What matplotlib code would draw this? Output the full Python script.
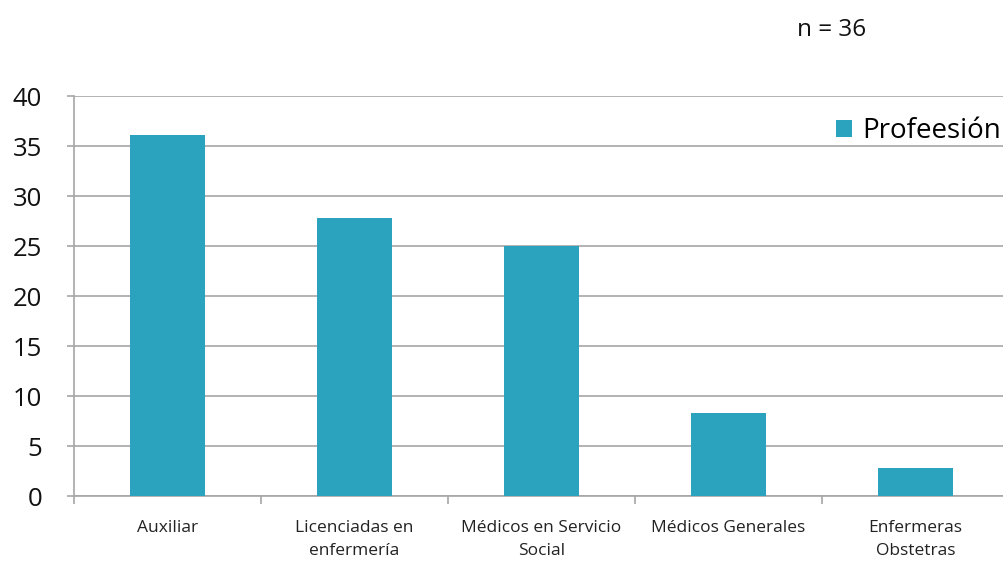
import matplotlib
matplotlib.use("Agg")
import matplotlib.pyplot as plt
import numpy as np

categories = ["Auxiliar", "Licenciadas en\nenfermería", "Médicos en Servicio\nSocial",
              "Médicos Generales", "Enfermeras\nObstetras"]
values = [36.1, 27.8, 25.0, 8.3, 2.8]
yticks = [0, 5, 10, 15, 20, 25, 30, 35, 40]
series_name = "Profeesión"
note = "n = 36"

bar_color = "#2BA2BE"
grid_color = "#A6A6A6"

fig = plt.figure(figsize=(10.04, 5.62), dpi=100)
ax = fig.add_axes([74/1004, 1-496/562, (1009-74)/1004, 400/562])

x = np.arange(len(categories))
ax.bar(x, values, width=0.4, color=bar_color, label=series_name, zorder=3)

ax.set_xlim(-0.5, len(categories) - 0.5)
ax.set_ylim(0, 40)
ax.set_yticks(yticks)
ax.set_yticklabels([str(t) for t in yticks], fontsize=18.5, family="Open Sans", color="#111111")
ax.yaxis.grid(True, color=grid_color, linewidth=1.2, zorder=0)
ax.tick_params(axis="y", length=5, color=grid_color, width=1.2, pad=18)

ax.set_xticks(x)
ax.set_xticklabels(categories, fontsize=12.5, family="Open Sans", color="#222222", linespacing=1.65)
ax.set_xticks(np.arange(len(categories) + 1) - 0.5, minor=True)
ax.tick_params(axis="x", which="major", length=0, pad=17)
ax.tick_params(axis="x", which="minor", length=6, color=grid_color, width=1.2)

for s in ["top", "right"]:
    ax.spines[s].set_visible(False)
for s in ["left", "bottom"]:
    ax.spines[s].set_color(grid_color)
    ax.spines[s].set_linewidth(1.2)

ax.legend(loc="upper right", bbox_to_anchor=(1012/1009, 0.975), frameon=False,
          prop={"family": "Open Sans", "size": 20}, handlelength=0.6, handleheight=0.6,
          handletextpad=0.35, borderaxespad=0)

fig.text(832/1004, 1-30/562, note, fontsize=17.5, family="Open Sans", ha="center", va="center",
         color="#111111")

fig.savefig("out.png", dpi=100)
